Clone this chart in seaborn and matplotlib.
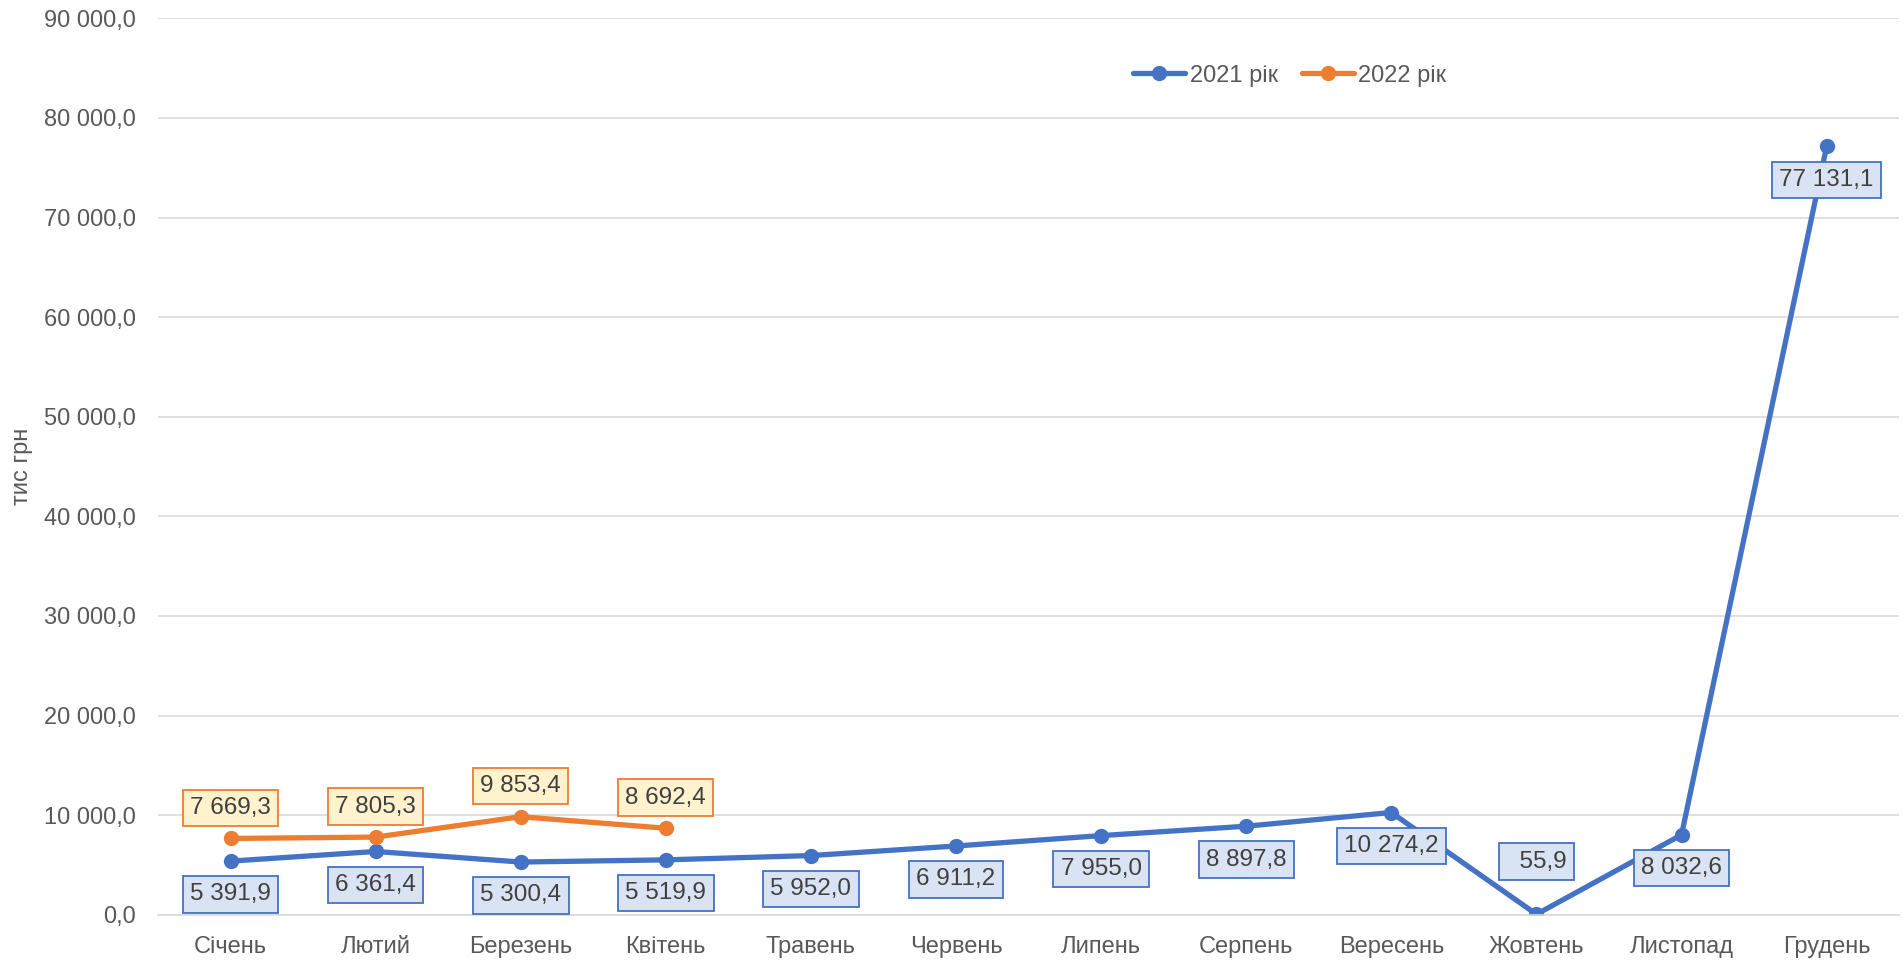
import matplotlib
matplotlib.use("Agg", force=True)
import matplotlib.pyplot as plt
from matplotlib.ticker import FuncFormatter, MultipleLocator
import pandas as pd
import seaborn as sns

MONTHS = ["Січень", "Лютий", "Березень", "Квітень", "Травень", "Червень",
          "Липень", "Серпень", "Вересень", "Жовтень", "Листопад", "Грудень"]
VALUES_2021 = [5391.9, 6361.4, 5300.4, 5519.9, 5952.0, 6911.2,
               7955.0, 8897.8, 10274.2, 55.9, 8032.6, 77131.1]
VALUES_2022 = [7669.3, 7805.3, 9853.4, 8692.4]
SERIES = ["2021 рік", "2022 рік"]

BLUE = "#4472C4"
ORANGE = "#ED7D31"
TEXT = "#595959"


def fmt_uk(value: float) -> str:
    s = f"{value:,.1f}"
    return s.replace(",", " ").replace(".", ",")


frame = pd.concat([
    pd.DataFrame({"month": MONTHS, "value": VALUES_2021, "series": SERIES[0]}),
    pd.DataFrame({"month": MONTHS[:len(VALUES_2022)], "value": VALUES_2022, "series": SERIES[1]}),
])
frame["pos"] = frame["month"].map({m: i for i, m in enumerate(MONTHS)})

sns.set_theme(style="white")
plt.rcParams["font.family"] = ["Liberation Sans", "DejaVu Sans"]

fig = plt.figure(figsize=(19.03, 9.63), dpi=100)
ax = fig.add_axes([0.083, 0.05, 0.915, 0.931])

sns.lineplot(
    data=frame, x="pos", y="value", hue="series", hue_order=SERIES,
    palette=[BLUE, ORANGE], marker="o", markersize=11, markeredgewidth=0,
    linewidth=3.8, sort=False, ax=ax,
)

# data labels: blue below, orange above (with a few exceptions like Excel)
offsets_2021 = [-24] * 12
offsets_2021[9] = 38
for i, (v, dy) in enumerate(zip(VALUES_2021, offsets_2021)):
    text = fmt_uk(v)
    if i == 9:
        text = "  " + text
    ax.annotate(text, (i, v), xytext=(0, dy), textcoords="offset points",
                ha="center", va="center", fontsize=17.5, color="#404040",
                bbox=dict(boxstyle="square,pad=0.3", fc="#DAE3F3", ec=BLUE, lw=1.3))
for i, v in enumerate(VALUES_2022):
    ax.annotate(fmt_uk(v), (i, v), xytext=(0, 22), textcoords="offset points",
                ha="center", va="center", fontsize=17.5, color="#404040",
                bbox=dict(boxstyle="square,pad=0.3", fc="#FFF2CC", ec=ORANGE, lw=1.3))

ax.set_xlim(-0.5, 11.5)
ax.set_ylim(0, 90000)
ax.set_xticks(range(len(MONTHS)))
ax.set_xticklabels(MONTHS)
ax.yaxis.set_major_locator(MultipleLocator(10000))
ax.yaxis.set_major_formatter(FuncFormatter(lambda v, _: fmt_uk(v)))
ax.tick_params(axis="both", length=0, labelsize=17, labelcolor=TEXT)
ax.tick_params(axis="y", pad=16)
ax.tick_params(axis="x", pad=15)
ax.grid(axis="y", color="#D9D9D9", linewidth=1.2)
ax.set_axisbelow(True)
for side in ["left", "right", "top"]:
    ax.spines[side].set_visible(False)
ax.spines["bottom"].set_color("#D9D9D9")
ax.spines["bottom"].set_linewidth(1.2)
ax.set_xlabel("")
ax.set_ylabel("тис грн", fontsize=17, color=TEXT, labelpad=8)

ax.legend(loc="center", bbox_to_anchor=(0.65, 0.936), ncol=2, frameon=False,
          fontsize=17, labelcolor=TEXT, handlelength=2.2, columnspacing=1.0,
          handletextpad=0.2, title=None)

fig.savefig("out.png", dpi=100)
